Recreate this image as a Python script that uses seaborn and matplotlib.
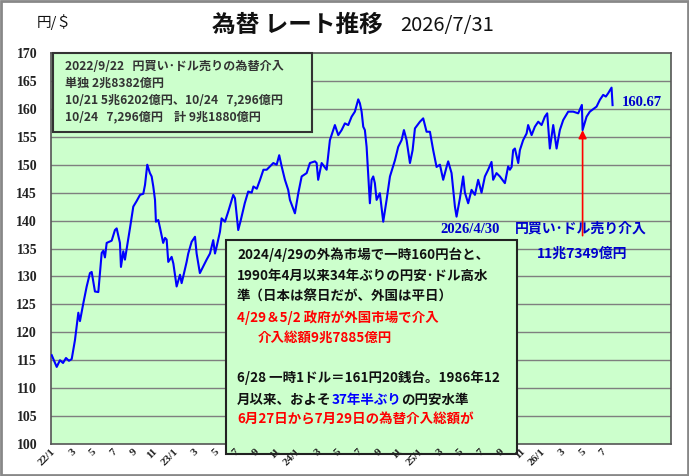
import numpy as np
import pandas as pd
import matplotlib
matplotlib.use("Agg")
import matplotlib.pyplot as plt
from matplotlib.patches import Rectangle
import seaborn as sns

# ---------------- data ----------------
months = [0.07, 0.56, 0.88, 1.18, 1.47, 1.76, 2.03, 2.35, 2.68, 2.84, 3.17, 3.5, 3.82, 3.99,
          4.31, 4.64, 4.8, 4.97, 5.13, 5.29, 5.46, 5.95, 6.27, 6.44, 6.76, 6.86, 7.09, 7.25,
          7.48, 7.75, 8.07, 8.4, 8.73, 9.05, 9.22, 9.44, 9.7, 9.87, 10.03, 10.2, 10.29, 10.52,
          10.69, 11.0, 11.18, 11.34, 11.5, 11.83, 12.0, 12.32, 12.65, 12.81, 12.97, 13.3, 13.46,
          13.79, 14.12, 14.28, 14.6, 14.93, 15.26, 15.59, 15.91, 16.08, 16.24, 16.57, 16.73,
          17.06, 17.38, 17.87, 18.04, 18.36, 18.6, 19.0, 19.34, 19.68, 19.85, 20.18, 20.5,
          20.83, 21.15, 21.47, 21.8, 22.13, 22.38, 22.62, 22.94, 23.26, 23.43, 23.92, 24.25,
          24.58, 25.07, 25.39, 25.88, 26.05, 26.2, 26.54, 27.03, 27.35, 27.84, 28.17, 28.5,
          28.82, 29.15, 29.48, 29.8, 30.13, 30.29, 30.46, 30.62, 30.78, 30.95, 31.1, 31.27,
          31.44, 31.6, 31.76, 31.93, 32.25, 32.58, 32.91, 33.24, 33.73, 34.05, 34.38, 34.61,
          34.87, 35.2, 35.46, 35.69, 36.18, 36.5, 36.83, 37.16, 37.48, 37.81, 38.14, 38.46,
          38.79, 38.95, 39.28, 39.61, 39.77, 40.1, 40.42, 40.59, 40.91, 41.24, 41.57, 41.89,
          42.22, 42.55, 42.87, 43.2, 43.36, 43.69, 44.02, 44.51, 44.83, 45.0, 45.17, 45.32,
          45.49, 45.82, 45.98, 46.3, 46.64, 46.79, 47.13, 47.45, 47.78, 48.11, 48.43, 48.66,
          48.92, 49.25, 49.58, 49.9, 50.23, 50.72, 51.21, 51.7, 52.06, 52.13, 52.52, 52.84,
          53.5, 53.82, 54.15, 54.41, 54.64, 54.97, 55.07]
rate = [115.9, 113.8, 115.0, 114.5, 115.4, 114.9, 115.2, 118.6, 123.5, 122.0, 125.2, 128.2, 130.6, 130.8,
        127.3, 127.2, 130.6, 134.2, 134.6, 133.4, 136.0, 136.4, 138.3, 138.6, 136.0, 131.7, 134.5, 133.0,
        135.6, 138.7, 142.5, 143.5, 144.6, 144.8, 146.4, 150.0, 148.5, 147.9, 146.1, 143.7, 139.8, 140.1,
        138.7, 136.0, 136.9, 136.6, 132.6, 133.5, 132.3, 128.2, 130.3, 128.8, 130.0, 132.6, 134.1,
        136.2, 137.1, 134.1, 130.6, 131.8, 133.0, 134.1, 136.5, 134.1, 135.3, 138.0, 140.4,
        139.8, 141.6, 144.6, 144.0, 138.3, 140.0, 143.1, 145.2, 145.0, 146.1, 145.7, 147.3,
        149.1, 149.1, 149.7, 150.3, 150.0, 151.7, 149.7, 147.3, 145.5, 143.7, 141.3, 144.9,
        147.9, 148.5, 150.3, 150.6, 150.3, 147.3, 150.3, 149.1, 154.4, 157.1, 155.3, 156.2,
        157.4, 157.1, 158.6, 159.5, 161.7, 161.0, 159.5, 156.8, 156.2, 153.2, 148.5, 143.1,
        147.3, 147.9, 146.7, 143.7, 144.9, 139.8, 143.7, 147.9, 150.8, 153.2, 154.4, 156.2,
        154.4, 150.3, 152.6, 156.5, 157.7, 158.3, 155.9, 155.9, 152.6, 149.6, 150.0, 147.3,
        149.6, 150.6, 148.5, 142.5, 140.7, 144.0, 147.9, 145.0, 143.1, 145.5, 144.6, 147.3,
        145.0, 147.9, 149.1, 150.5, 147.3, 148.5, 147.9, 146.7, 149.7, 149.1, 149.6, 152.6,
        152.9, 150.3, 152.6, 154.4, 155.6, 157.1, 155.3, 156.8, 157.7, 157.1, 158.6, 159.2,
        152.9, 157.1, 152.9, 156.2, 158.0, 159.5, 159.5, 159.2, 160.7, 156.2, 158.6, 159.5,
        160.4, 161.6, 162.5, 162.2, 162.8, 163.8, 160.67]

tick_months = list(range(0, 56, 2))
tick_labels = ["22/1", "3", "5", "7", "9", "11",
               "23/1", "3", "5", "7", "9", "11",
               "24/1", "3", "5", "7", "9", "11",
               "25/1", "3", "5", "7", "9", "11",
               "26/1", "3", "5", "7"]
y_ticks = list(range(100, 171, 5))

box1_lines = ["2022/9/22   円買い･ドル売りの為替介入",
              "単独 2兆8382億円",
              "10/21 5兆6202億円、10/24   7,296億円",
              "10/24   7,296億円    計 9兆1880億円"]

intervention_month = 52.13
intervention_rate = 156.2
last_label = "160.67"

# ---------------- figure ----------------
W, H = 689, 476
fig = plt.figure(figsize=(W / 100, H / 100), dpi=100)
fig.patch.set_facecolor("white")

def fx(px):
    return px / W

def fy(py):
    return 1 - py / H

ax = fig.add_axes([fx(51), fy(444), (671 - 51) / W, (444 - 53) / H])
ax.set_facecolor("#CCFFCC")

df = pd.DataFrame({"month": months, "rate": rate})
sns.lineplot(data=df, x="month", y="rate", ax=ax, color="#0000FF", linewidth=1.5,
             estimator=None, sort=False, zorder=3)

ax.set_xlim(0, 60.8)
ax.set_ylim(100, 170)
ax.set_yticks(y_ticks)
ax.set_yticklabels([str(v) for v in y_ticks], fontsize=10, fontweight="bold",
                   family="Liberation Serif", color="#222222")
ax.set_xticks(tick_months)
ax.set_xticklabels(tick_labels, rotation=45, ha="right", va="top", rotation_mode="anchor",
                   fontsize=8, fontweight="bold", family="Liberation Serif", color="#222222")
ax.tick_params(axis="x", length=0, pad=2)
ax.tick_params(axis="y", length=0, pad=10)
ax.xaxis.set_zorder(6)
ax.set_xlabel("")
ax.set_ylabel("")
for yv in y_ticks[1:-1]:
    ax.axhline(yv, color="#7f7f7f", linewidth=1.0, zorder=1)
for s in ax.spines.values():
    s.set_color("#555555")
    s.set_linewidth(1.2)

cjk = ["Noto Sans CJK JP", "DejaVu Sans"]

# title texts
fig.text(fx(212), fy(25), "為替 レート推移", family=cjk, fontsize=17, fontweight="bold",
         ha="left", va="center", color="#111111")
fig.text(fx(400), fy(26), "2026/7/31", family=cjk, fontsize=14.5, ha="left", va="center",
         color="#111111")
fig.text(fx(37), fy(22), "円/＄", family=cjk, fontsize=10.5, ha="left", va="center",
         color="#111111")

# top-left box
ax.add_patch(Rectangle((fx(53), fy(132)), (312 - 53) / W, (132 - 53) / H,
                       transform=fig.transFigure, facecolor="#CCFFCC", clip_on=False,
                       edgecolor="#333333", linewidth=1.5, zorder=5))
for line, yy in zip(box1_lines, [67, 83, 100, 117]):
    fig.text(fx(65), fy(yy), line, family=cjk, fontsize=8.7, fontweight="bold",
             ha="left", va="center", color="#333333", zorder=6)

# middle box
ax.add_patch(Rectangle((fx(226), fy(454)), (517 - 226) / W, (454 - 240) / H,
                       transform=fig.transFigure, facecolor="#CCFFCC", clip_on=False,
                       edgecolor="#222222", linewidth=1.5, zorder=5))
mid_fs = 9.7
mid_lines = [
    (237, 255, "2024/4/29の外為市場で一時160円台と、", "#111111"),
    (237, 276, "1990年4月以来34年ぶりの円安･ドル高水", "#111111"),
    (237, 297, "準（日本は祭日だが、外国は平日）", "#111111"),
    (237, 318, "4/29＆5/2 政府が外国市場で介入", "#FF0000"),
    (258, 338, "介入総額9兆7885億円", "#FF0000"),
    (237, 378, "6/28 一時1ドル＝161円20銭台。1986年12", "#111111"),
    (237, 420, "6月27日から7月29日の為替介入総額が", "#FF0000"),
]
for x0, y0, s, c in mid_lines:
    fig.text(fx(x0), fy(y0), s, family=cjk, fontsize=mid_fs, fontweight="bold",
             ha="left", va="center", color=c, zorder=6)

# mixed-colour line
fig.canvas.draw()
renderer = fig.canvas.get_renderer()
xcur = fx(237)
for s, c in [("月以来、およそ", "#111111"), ("37年半ぶり", "#0000FF"), ("の円安水準", "#111111")]:
    t = fig.text(xcur, fy(400), s, family=cjk, fontsize=mid_fs, fontweight="bold",
                 ha="left", va="center", color=c, zorder=6)
    bb = t.get_window_extent(renderer=renderer)
    xcur = bb.x1 / W

# right annotations
fig.text(fx(440), fy(229), "2026/4/30", family="Liberation Serif", fontsize=10.5,
         fontweight="bold", ha="left", va="center", color="#0000CC")
fig.text(fx(515), fy(229), "円買い･ドル売り介入", family=cjk, fontsize=10,
         fontweight="bold", ha="left", va="center", color="#0000CC")
fig.text(fx(537), fy(254), "11兆7349億円", family=cjk, fontsize=10,
         fontweight="bold", ha="left", va="center", color="#0000CC")
ax.annotate(last_label, xy=(55.07, 160.67), xytext=(fx(622), fy(103)),
            textcoords="figure fraction", family="Liberation Serif", fontsize=10.5,
            fontweight="bold", ha="left", va="center", color="#0000CC")
ax.annotate("", xy=(intervention_month, intervention_rate),
            xytext=(intervention_month, 137.3),
            arrowprops=dict(arrowstyle="-|>", color="#FF0000", lw=1.2,
                            mutation_scale=12, shrinkA=0, shrinkB=0), zorder=4)

# figure border
fig.patches.append(Rectangle((0.001, 0.002), 0.997, 0.996, transform=fig.transFigure,
                             facecolor="none", edgecolor="#888888", linewidth=2))

fig.savefig("out.png", dpi=100)
